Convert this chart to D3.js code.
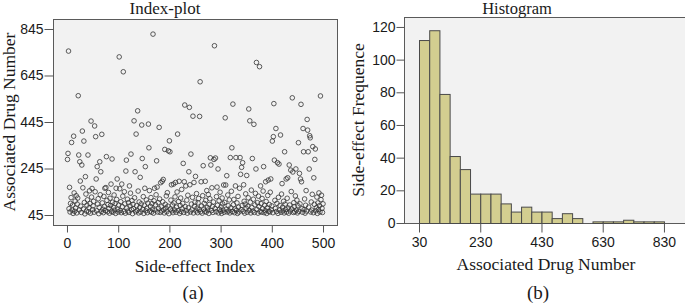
<!DOCTYPE html>
<html>
<head>
<meta charset="utf-8">
<script src="https://cdn.jsdelivr.net/npm/d3@7"></script>
<style>
body { margin: 0; background: #fff; }
svg { display: block; }
.lbl { font-family: "Liberation Serif", "Times New Roman", serif; fill: #1a1a1a; }
.tick text { font-family: "Liberation Sans", Arial, sans-serif; font-size: 14px; fill: #1a1a1a; }
.tick line { stroke: #555; }
</style>
</head>
<body>
<svg id="chart" width="685" height="304"></svg>
<script>
// associated drug number for each side-effect, index 1..500
var drugNumber = [
    284, 310, 750, 72, 164, 58, 95, 120, 357, 66,
    88, 52, 384, 140, 61, 105, 75, 128, 54, 92,
    118, 558, 303, 67, 274, 191, 83, 56, 260, 406,
    162, 71, 363, 99, 50, 210, 135, 62, 87, 110,
    303, 58, 76, 149, 95, 53, 449, 122, 159, 68,
    84, 104, 57, 428, 145, 382, 200, 63, 253, 92,
    115, 51, 78, 274, 132, 231, 60, 392, 97, 70,
    55, 125, 82, 160, 64, 163, 296, 108, 59, 90,
    142, 73, 53, 117, 86, 178, 61, 286, 100, 57,
    79, 131, 66, 94, 52, 160, 112, 200, 70, 58,
    88, 725, 158, 64, 102, 55, 178, 81, 126, 661,
    60, 145, 93, 53, 234, 281, 75, 113, 62, 98,
    56, 170, 84, 139, 307, 68, 107, 51, 91, 72,
    450, 119, 231, 59, 393, 85, 65, 493, 148, 54,
    101, 77, 207, 58, 93, 432, 288, 69, 124, 52,
    87, 160, 253, 63, 110, 74, 55, 96, 436, 334,
    150, 61, 82, 120, 57, 94, 70, 823, 53, 106,
    160, 66, 89, 132, 278, 165, 58, 98, 73, 422,
    114, 56, 184, 80, 62, 190, 102, 198, 68, 54,
    327, 91, 75, 127, 59, 141, 83, 321, 51, 364,
    317, 71, 109, 175, 63, 88, 55, 178, 97, 67,
    123, 185, 57, 79, 144, 393, 64, 103, 190, 52,
    86, 118, 60, 155, 72, 95, 267, 56, 188, 518,
    81, 170, 64, 109, 53, 130, 76, 231, 508, 175,
    58, 307, 92, 67, 121, 470, 54, 185, 83, 100,
    211, 62, 137, 74, 55, 97, 116, 68, 469, 618,
    59, 188, 84, 53, 128, 257, 71, 95, 61, 190,
    108, 57, 150, 78, 66, 133, 52, 90, 115, 291,
    260, 64, 162, 82, 56, 101, 284, 773, 73, 290,
    59, 124, 165, 87, 243, 54, 106, 69, 143, 61,
    80, 52, 118, 93, 66, 174, 57, 99, 463, 174,
    70, 214, 58, 131, 85, 63, 110, 54, 292, 76,
    147, 334, 60, 522, 89, 112, 55, 71, 170, 292,
    65, 97, 52, 125, 79, 58, 160, 292, 220, 68,
    250, 86, 270, 61, 175, 104, 53, 92, 136, 74,
    215, 57, 83, 119, 501, 65, 450, 100, 54, 152,
    77, 288, 62, 113, 435, 56, 89, 138, 243, 701,
    69, 98, 53, 126, 81, 683, 60, 170, 94, 57,
    116, 72, 148, 253, 55, 87, 64, 188, 103, 52,
    76, 129, 195, 61, 90, 58, 143, 200, 67, 84,
    363, 55, 382, 524, 281, 108, 73, 417, 60, 95,
    270, 52, 121, 264, 66, 86, 389, 57, 135, 180,
    78, 63, 104, 54, 317, 92, 69, 200, 58, 117,
    205, 75, 53, 260, 88, 62, 238, 146, 71, 549,
    230, 56, 98, 81, 59, 127, 243, 66, 109, 54,
    85, 356, 61, 224, 93, 200, 521, 188, 72, 57,
    417, 317, 68, 114, 53, 87, 150, 62, 456, 410,
    317, 79, 243, 386, 377, 58, 101, 66, 134, 339,
    55, 205, 91, 284, 329, 63, 76, 122, 52, 97,
    69, 140, 85, 58, 557, 111, 130, 74, 56, 93
];
var scatterXTicks = [0, 100, 200, 300, 400, 500];
var scatterYTicks = [45, 245, 445, 645, 845];

// histogram: 24 bins from 30 to 830
var histStart = 30;
var histEnd = 830;
var histCounts = [112, 118, 79, 41, 33, 18, 18, 18, 12, 7, 10, 7, 7, 3, 6, 3, 0, 1, 1, 1, 2, 1, 1, 1];
var histXTicks = [30, 230, 430, 630, 830];
var histYTicks = [0, 20, 40, 60, 80, 100, 120];

var svg = d3.select('#chart');

function frame(box) {
    svg.append('rect')
        .attr('x', box.left + 0.5).attr('y', box.top + 0.5)
        .attr('width', box.right - box.left).attr('height', box.bottom - box.top)
        .attr('fill', '#f2f2f2')
        .attr('stroke', '#5a5a5a');
}

function label(txt, x, y, size, rot) {
    var t = svg.append('text').attr('class', 'lbl')
        .attr('text-anchor', 'middle')
        .style('font-size', size + 'px')
        .text(txt);
    if (rot) t.attr('transform', 'translate(' + x + ',' + y + ') rotate(-90)');
    else t.attr('x', x).attr('y', y);
}

// ---- (a) index plot
var A = {left: 53, right: 337, top: 19, bottom: 225};
frame(A);
var xA = d3.scaleLinear().domain([-27.3, 527.3]).range([A.left, A.right]);
var yA = d3.scaleLinear().domain([2, 888]).range([A.bottom, A.top]);

svg.append('g')
    .attr('transform', 'translate(0,' + (A.bottom + 0.5) + ')')
    .call(d3.axisBottom(xA).tickValues(scatterXTicks).tickSize(7).tickSizeOuter(0).tickPadding(6))
    .call(function (g) { g.select('.domain').remove(); });
svg.append('g')
    .attr('transform', 'translate(' + (A.left + 0.5) + ',0)')
    .call(d3.axisLeft(yA).tickValues(scatterYTicks).tickSize(9).tickSizeOuter(0).tickPadding(1))
    .call(function (g) { g.select('.domain').remove(); });

svg.append('g').selectAll('circle')
    .data(drugNumber)
    .join('circle')
    .attr('cx', function (d, i) { return xA(i + 1); })
    .attr('cy', function (d) { return yA(d); })
    .attr('r', 2.3)
    .attr('fill', 'none')
    .attr('stroke', '#333')
    .attr('stroke-width', 0.8);

label('Index-plot', 165, 14, 17);
label('Side-effect Index', 195, 272, 17.5);
label('Associated Drug Number', 15, 122, 17.5, true);
label('(a)', 193, 299, 19);

// ---- (b) histogram
var B = {left: 404, right: 686, top: 17, bottom: 223};
frame(B);
var xB = d3.scaleLinear().domain([-19, 902]).range([B.left, B.right]);
var yB = d3.scaleLinear().domain([0, 126.1]).range([B.bottom, B.top]);
var binW = (histEnd - histStart) / histCounts.length;

svg.append('g').selectAll('rect')
    .data(histCounts)
    .join('rect')
    .attr('x', function (d, i) { return xB(histStart + i * binW) + 0.5; })
    .attr('y', function (d) { return yB(d) + 0.5; })
    .attr('width', function (d, i) { return xB(histStart + (i + 1) * binW) - xB(histStart + i * binW); })
    .attr('height', function (d) { return yB(0) - yB(d); })
    .attr('fill', '#d3ce90')
    .attr('stroke', '#4a4a4a')
    .attr('stroke-width', 1);

svg.append('g')
    .attr('transform', 'translate(0,' + (B.bottom + 0.5) + ')')
    .call(d3.axisBottom(xB).tickValues(histXTicks).tickSize(9).tickSizeOuter(0).tickPadding(5))
    .call(function (g) { g.select('.domain').remove(); });
svg.append('g')
    .attr('transform', 'translate(' + (B.left + 0.5) + ',0)')
    .call(d3.axisLeft(yB).tickValues(histYTicks).tickSize(8).tickSizeOuter(0).tickPadding(1))
    .call(function (g) { g.select('.domain').remove(); });

label('Histogram', 517, 14, 16.5);
label('Associated Drug Number', 546, 270, 17.5);
label('Side-effect Frequence', 364, 120, 17.5, true);
label('(b)', 538, 299, 19);
</script>
</body>
</html>
